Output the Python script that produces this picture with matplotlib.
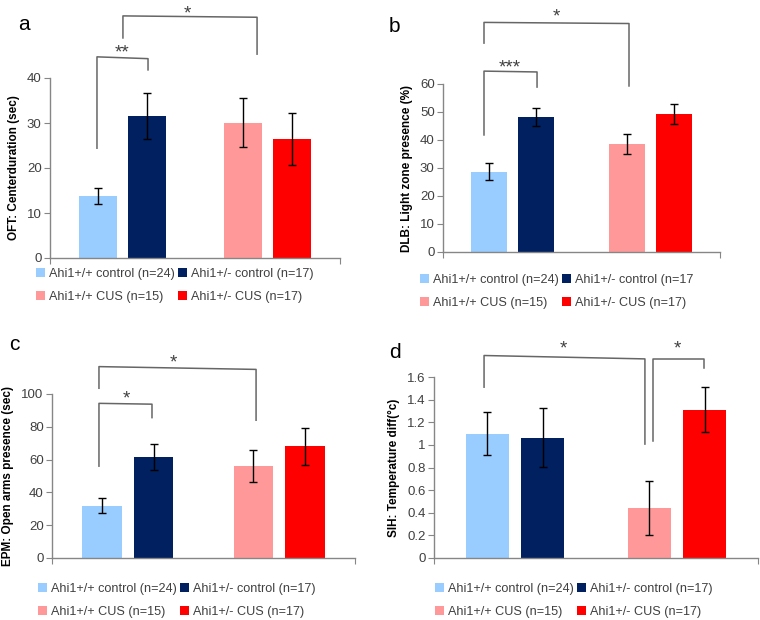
import matplotlib
matplotlib.use("Agg")
import matplotlib.pyplot as plt
from matplotlib.patches import Patch
from matplotlib.ticker import FuncFormatter

plt.rcParams['font.family'] = ['Liberation Sans', 'DejaVu Sans']

# ---- data ----
groups = ["Ahi1+/+ control (n=24)", "Ahi1+/- control (n=17)",
          "Ahi1+/+ CUS (n=15)", "Ahi1+/- CUS (n=17)"]
colors = ["#99CCFF", "#002060", "#FF9999", "#FF0000"]

oft_mean = [13.7, 31.5, 30.1, 26.5]
oft_err = [1.8, 5.1, 5.4, 5.8]
dlb_mean = [28.7, 48.2, 38.6, 49.3]
dlb_err = [3.1, 3.2, 3.6, 3.7]
epm_mean = [32.0, 61.5, 56.0, 68.0]
epm_err = [4.6, 8.0, 9.6, 11.4]
sih_mean = [1.10, 1.065, 0.44, 1.31]
sih_err = [0.19, 0.26, 0.24, 0.20]

ylabels = ["OFT: Centerduration (sec)", "DLB: Light zone presence (%)",
           "EPM: Open arms presence (sec)", "SIH: Temperature diff(\u00b0c)"]
panel_letters = ["a", "b", "c", "d"]
yticks_list = [[0, 10, 20, 30, 40], [0, 10, 20, 30, 40, 50, 60],
               [0, 20, 40, 60, 80, 100],
               [0, 0.2, 0.4, 0.6, 0.8, 1, 1.2, 1.4, 1.6]]
legend_labels_b = ["Ahi1+/+ control (n=24)", "Ahi1+/- control (n=17",
                   "Ahi1+/+ CUS (n=15)", "Ahi1+/- CUS (n=17)"]

# significance brackets:
# (x_left, y_left_bottom, y_left_top, x_right, y_right_top, y_right_bottom, text, text_x, text_baseline_y)
sig_a = [(0.324, 24.4, 44.7, 0.676, 44.3, 41.8, "**", 0.50, 44.5),
         (0.503, 48.9, 53.8, 1.428, 53.5, 45.3, "*", 0.95, 53.3)]
sig_b = [(0.296, 41.8, 64.6, 0.679, 64.3, 58.9, "***", 0.48, 64.0),
         (0.296, 74.6, 82.0, 1.343, 81.6, 59.3, "*", 0.82, 82.3)]
sig_c = [(0.31, 56.0, 94.3, 0.66, 93.8, 85.6, "*", 0.49, 94.5),
         (0.31, 103.5, 116.7, 1.347, 115.0, 84.0, "*", 0.80, 116.0)]
sig_d = [(0.309, 1.51, 1.79, 1.302, 1.76, 1.007, "*", 0.80, 1.81),
         (1.35, 1.03, 1.76, 1.667, 1.76, 1.68, "*", 1.50, 1.81)]

means = [oft_mean, dlb_mean, epm_mean, sih_mean]
errs = [oft_err, dlb_err, epm_err, sih_err]
sigs = [sig_a, sig_b, sig_c, sig_d]

# ---- layout (pixels) ----
W, H = 760, 620
# left, right, bottom(y from top), top(y from top)
axes_px = [(50, 340, 258, 78), (443, 720, 252, 84),
           (52, 355, 558, 394), (434, 758, 558, 377)]
legend_px = [(36, 280), (420, 286), (38, 595), (435, 595)]
letter_px = [(18, 24), (389, 26), (9, 344), (389, 352)]

fig = plt.figure(figsize=(W / 100, H / 100), dpi=100)

xpos = [0.33, 0.67, 1.33, 1.67]
axis_col = "#868686"
text_col = "#404040"

for i in range(4):
    l, r, b, t = axes_px[i]
    ax = fig.add_axes([l / W, 1 - b / H, (r - l) / W, (b - t) / H])
    ax.bar(xpos, means[i], width=0.26, color=colors, yerr=errs[i],
           error_kw=dict(ecolor="black", elinewidth=1.0, capsize=3, capthick=1.0))
    yt = yticks_list[i]
    ax.set_ylim(0, yt[-1])
    ax.set_xlim(0, 2)
    ax.set_yticks(yt)
    ax.yaxis.set_major_formatter(FuncFormatter(lambda v, p: "%g" % v))
    ax.set_xticks([0, 2])
    ax.set_xticklabels([])
    for s in ["top", "right"]:
        ax.spines[s].set_visible(False)
    for s in ["left", "bottom"]:
        ax.spines[s].set_color(axis_col)
        ax.spines[s].set_linewidth(1.0)
    ax.tick_params(axis="y", direction="out", length=4, color=axis_col,
                   labelsize=9.5, labelcolor=text_col, pad=2)
    ax.tick_params(axis="x", direction="out", length=4, color=axis_col)
    ax.set_ylabel(ylabels[i], fontsize=8.5, fontweight="bold", labelpad=5)

    for (xl, yl0, yl1, xr, yr1, yr0, txt, tx, ty) in sigs[i]:
        ax.plot([xl, xl, xr, xr], [yl0, yl1, yr1, yr0], color="#666666",
                lw=1.1, clip_on=False)
        ax.text(tx, ty, txt, ha="center", va="baseline", fontsize=13.5,
                color=text_col, clip_on=False)

    labs = legend_labels_b if i == 1 else groups
    handles = [Patch(facecolor=c, edgecolor="none") for c in colors]
    order = [0, 2, 1, 3]
    lx, ly = legend_px[i]
    fig.legend([handles[k] for k in order], [labs[k] for k in order], ncol=2,
               loc="upper left", bbox_to_anchor=(lx / W, 1 - (ly - 12) / H),
               frameon=False, fontsize=9.1, handlelength=0.7, handleheight=0.7,
               handletextpad=0.3, columnspacing=0.3, labelspacing=0.85,
               borderpad=0, borderaxespad=0, labelcolor=text_col)

    fx, fy = letter_px[i]
    fig.text(fx / W, 1 - fy / H, panel_letters[i], fontsize=15,
             ha="left", va="center", color="black")

fig.savefig("out.png", dpi=100)
